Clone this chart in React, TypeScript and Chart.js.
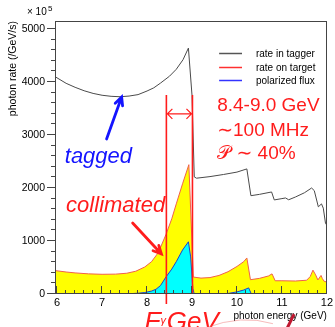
import React, { useEffect, useRef } from "react";
import { Chart, registerables } from "chart.js";

Chart.register(...registerables);

const FONT = "'Liberation Sans', Arial, Helvetica, 'DejaVu Sans', sans-serif";
const RED = "#ff1c1c";
const BLUE = "#1414ff";

// axes
const xRange = [5.975, 12];
const yRange = [0, 5151];
const xTickValues = [6, 7, 8, 9, 10, 11, 12];
const yTickValues = [0, 1000, 2000, 3000, 4000, 5000];
const xMajorStep = 1;
const xMinorStep = 0.2;
const yMajorStep = 1000;
const yMinorStep = 200;

// rate in tagger
const taggerEnergy = [5.975, 6.2, 6.4, 6.6, 6.8, 7.0, 7.2, 7.4, 7.6, 7.8, 8.0, 8.15, 8.3, 8.5, 8.65, 8.8, 8.92, 9.0, 9.05, 9.1, 9.4, 9.7, 10.0, 10.22, 10.31, 10.5, 10.77, 10.83, 11.0, 11.08, 11.15, 11.3, 11.5, 11.66, 11.72, 11.81, 11.88, 11.92, 11.97, 12.0];
const taggerRate = [4090, 3975, 3900, 3835, 3785, 3750, 3730, 3722, 3735, 3762, 3830, 3890, 3980, 4110, 4240, 4420, 4640, 3750, 2210, 2185, 2215, 2255, 2300, 2360, 1855, 1880, 1925, 1775, 1800, 1812, 1778, 1830, 1910, 2000, 1950, 1645, 1700, 1620, 1330, 1300];

// rate on target (collimated)
const targetEnergy = [5.975, 6.2, 6.4, 6.7, 7.0, 7.3, 7.55, 7.75, 7.95, 8.1, 8.25, 8.42, 8.55, 8.65, 8.79, 8.93, 9.03, 9.2, 9.4, 9.6, 9.8, 10.0, 10.15, 10.22, 10.3, 10.5, 10.7, 10.78, 10.85, 11.0, 11.3, 11.55, 11.63, 11.69, 11.75, 11.8, 11.87, 11.9, 11.94, 12.0];
const targetRate = [440, 415, 398, 380, 372, 375, 392, 430, 510, 610, 780, 1120, 1420, 1700, 2080, 2440, 320, 300, 310, 350, 420, 520, 610, 680, 270, 295, 340, 380, 250, 250, 245, 260, 330, 450, 360, 265, 350, 290, 240, 225];

// polarized flux (null = no entry)
const polarizedEnergy = [7.4, 7.6, 7.8, 7.95, 8.1, 8.2, 8.3, 8.42, 8.55, 8.65, 8.79, 8.92, 8.97, 9.02, 9.05, 9.3, 9.5, 9.8, 10.0, 10.15, 10.26, 10.32, 10.4, 10.45, 10.8, 10.85, 11.2, 11.55, 11.7, 11.8];
const polarizedRate = [0, 5, 15, 28, 55, 90, 160, 320, 470, 610, 830, 985, 700, 100, 0, null, 0, 10, 40, 75, 115, 0, null, 0, 5, 0, null, 0, 10, 0];

// annotations
const legendLabels = ["rate in tagger", "rate on target", "polarized flux"];
const legendColors = ["#555555", "#ff3030", "#3333ff"];
const infoLines = ["8.4-9.0 GeV", "\u223C100 MHz", "\uD835\uDCAB \u223C 40%"];
const windowEdges = [8.43, 9.01];
const windowTop = 3755;
const arrowLevel = 3400;

function pts(xs: number[], ys: (number | null)[]) {
  return xs.map((x, i) => ({ x, y: ys[i] }));
}

function drawArrow(ctx: CanvasRenderingContext2D, x0: number, y0: number, x1: number, y1: number, color: string, width: number, head: number) {
  const a = Math.atan2(y1 - y0, x1 - x0);
  ctx.save();
  ctx.strokeStyle = color;
  ctx.lineWidth = width;
  ctx.lineCap = "round";
  ctx.lineJoin = "miter";
  ctx.beginPath();
  ctx.moveTo(x0, y0);
  ctx.lineTo(x1, y1);
  ctx.moveTo(x1 - head * Math.cos(a - 0.45), y1 - head * Math.sin(a - 0.45));
  ctx.lineTo(x1, y1);
  ctx.lineTo(x1 - head * Math.cos(a + 0.45), y1 - head * Math.sin(a + 0.45));
  ctx.stroke();
  ctx.restore();
}

const overlayPlugin = {
  id: "overlay",
  afterDatasetsDraw(chart: any) {
    const { ctx, chartArea: ca, scales } = chart;
    const X = (v: number) => scales.x.getPixelForValue(v);
    const Y = (v: number) => scales.y.getPixelForValue(v);
    ctx.save();
    ctx.strokeStyle = RED;
    ctx.lineWidth = 1.6;
    windowEdges.forEach((e, i) => {
      const px = X(e);
      ctx.beginPath();
      ctx.moveTo(px, Y(windowTop));
      ctx.lineTo(px, i === 0 ? ca.bottom + 10 : ca.bottom);
      ctx.stroke();
    });
    const ay = Y(arrowLevel);
    const x1 = X(windowEdges[0]);
    const x2 = X(windowEdges[1]);
    ctx.lineWidth = 1.2;
    ctx.beginPath();
    ctx.moveTo(x1, ay);
    ctx.lineTo(x2, ay);
    ctx.moveTo(x1 + 6, ay - 5);
    ctx.lineTo(x1 + 1, ay);
    ctx.lineTo(x1 + 6, ay + 5);
    ctx.moveTo(x2 - 6, ay - 5);
    ctx.lineTo(x2 - 1, ay);
    ctx.lineTo(x2 - 6, ay + 5);
    ctx.stroke();
    ctx.restore();
  },
  afterDraw(chart: any) {
    const { ctx, chartArea: ca, scales } = chart;
    const X = (v: number) => scales.x.getPixelForValue(v);
    const Y = (v: number) => scales.y.getPixelForValue(v);
    ctx.save();
    // frame
    ctx.strokeStyle = "#444";
    ctx.lineWidth = 1;
    ctx.strokeRect(Math.round(ca.left) - 0.5, Math.round(ca.top) + 0.5, Math.round(ca.right - ca.left), Math.round(ca.bottom - ca.top) - 1);
    // y ticks (outside, left)
    ctx.beginPath();
    const ny = Math.floor((yRange[1] - yRange[0]) / yMinorStep + 1e-6);
    for (let i = 0; i <= ny; i++) {
      const v = yRange[0] + i * yMinorStep;
      const py = Math.round(Y(v)) - 0.5;
      const major = Math.abs(v / yMajorStep - Math.round(v / yMajorStep)) < 1e-6;
      ctx.moveTo(ca.left - (major ? 9 : 5), py);
      ctx.lineTo(ca.left, py);
    }
    // x ticks (inside, bottom)
    const start = Math.ceil(xRange[0] / xMinorStep - 1e-6);
    const end = Math.floor(xRange[1] / xMinorStep + 1e-6);
    for (let k = start; k <= end; k++) {
      const v = k * xMinorStep;
      const px = Math.round(X(v)) - 0.5;
      const major = Math.abs(v / xMajorStep - Math.round(v / xMajorStep)) < 1e-6;
      ctx.moveTo(px, ca.bottom);
      ctx.lineTo(px, ca.bottom - (major ? 8 : 4));
    }
    ctx.stroke();

    // x10^5
    ctx.fillStyle = "#000";
    ctx.textBaseline = "alphabetic";
    ctx.textAlign = "left";
    ctx.font = `10px ${FONT}`;
    ctx.fillText("\u00D7 10", ca.left - 29, ca.top - 6);
    ctx.font = `8px ${FONT}`;
    ctx.fillText("5", ca.left - 8, ca.top - 10);

    // legend
    ctx.font = `10px ${FONT}`;
    ctx.textBaseline = "middle";
    const legY = [4547, 4283, 4038];
    legendLabels.forEach((lab, i) => {
      const py = Math.round(Y(legY[i])) + 0.5;
      ctx.strokeStyle = legendColors[i];
      ctx.lineWidth = 1.5;
      ctx.beginPath();
      ctx.moveTo(X(9.603), py);
      ctx.lineTo(X(10.112), py);
      ctx.stroke();
      ctx.fillStyle = "#000";
      ctx.fillText(lab, X(10.422), py + 1);
    });

    // info text
    ctx.fillStyle = RED;
    ctx.textBaseline = "alphabetic";
    ctx.font = `19px ${FONT}`;
    const infoY = [3453, 2981, 2547];
    infoLines.forEach((t, i) => ctx.fillText(t, X(9.559), Y(infoY[i])));

    // tagged
    ctx.fillStyle = BLUE;
    ctx.font = `italic 22px ${FONT}`;
    ctx.fillText("tagged", X(6.17), Y(2470));
    drawArrow(ctx, X(7.1), Y(2925), X(7.435), Y(3717), BLUE, 2.8, 9);

    // collimated
    ctx.fillStyle = RED;
    ctx.fillText("collimated", X(6.2), Y(1550));
    drawArrow(ctx, X(7.68), Y(1340), X(8.32), Y(755), RED, 2.8, 9);

    // E_gamma GeV
    ctx.font = `italic 26px ${FONT}`;
    ctx.fillText("E", X(7.944), Y(-680));
    ctx.font = `italic 11px ${FONT}`;
    ctx.fillText("\u03B3", X(8.3), Y(-560));
    ctx.font = `italic 26px ${FONT}`;
    ctx.fillText("GeV", X(8.44), Y(-680));

    // faint decoration below axis
    ctx.strokeStyle = "rgba(240,120,120,0.5)";
    ctx.lineWidth = 1;
    ctx.beginPath();
    ctx.moveTo(X(9.3), Y(-640));
    ctx.quadraticCurveTo(X(10.1), Y(-380), X(10.8), Y(-560));
    ctx.stroke();
    ctx.strokeStyle = "#c01830";
    ctx.lineWidth = 3;
    ctx.beginPath();
    ctx.moveTo(X(11.27), Y(-380));
    ctx.lineTo(X(11.12), Y(-640));
    ctx.stroke();
    ctx.restore();
  },
};

export default function App() {
  const ref = useRef<HTMLCanvasElement>(null);
  useEffect(() => {
    document.body.style.margin = "0";
    const chart = new Chart(ref.current as HTMLCanvasElement, {
      type: "line",
      data: {
        datasets: [
          {
            label: legendLabels[0],
            data: pts(taggerEnergy, taggerRate),
            borderColor: "#4a4a4a",
            borderWidth: 1,
            pointRadius: 0,
            fill: false,
            tension: 0,
            order: 0,
          },
          {
            label: legendLabels[2],
            data: pts(polarizedEnergy, polarizedRate),
            borderColor: "#1f3fd0",
            backgroundColor: "#00ffff",
            borderWidth: 1,
            pointRadius: 0,
            fill: "origin",
            spanGaps: false,
            tension: 0,
            order: 1,
          },
          {
            label: legendLabels[1],
            data: pts(targetEnergy, targetRate),
            borderColor: "#f0604a",
            backgroundColor: "#ffff00",
            borderWidth: 1,
            pointRadius: 0,
            fill: "origin",
            tension: 0,
            order: 2,
          },
        ],
      } as any,
      options: {
        responsive: false,
        animation: false,
        events: [],
        layout: { padding: { top: 21, right: 7, left: 0, bottom: 0 } },
        plugins: { legend: { display: false }, tooltip: { enabled: false } },
        scales: {
          x: {
            type: "linear",
            min: xRange[0],
            max: xRange[1],
            grid: { display: false, drawTicks: false },
            border: { display: false },
            afterBuildTicks: (s: any) => { s.ticks = xTickValues.map((v) => ({ value: v })); },
            ticks: { autoSkip: false, maxRotation: 0, font: { family: FONT, size: 11 }, color: "#000", padding: 2, callback: (v: any) => String(v) },
            title: { display: true, text: "photon energy (GeV)", align: "end", font: { family: FONT, size: 10 }, color: "#000", padding: { top: 0, bottom: 5 } },
            afterFit: (s: any) => { s.height = 33; },
          },
          y: {
            type: "linear",
            min: yRange[0],
            max: yRange[1],
            grid: { display: false, drawTicks: false },
            border: { display: false },
            afterBuildTicks: (s: any) => { s.ticks = yTickValues.map((v) => ({ value: v })); },
            ticks: { autoSkip: false, font: { family: FONT, size: 10.5 }, color: "#000", padding: 11, callback: (v: any) => String(v) },
            title: { display: true, text: "photon rate (/GeV/s)", align: "end", font: { family: FONT, size: 10.5 }, color: "#000", padding: { top: 7, bottom: 0 } },
            afterFit: (s: any) => { s.width = 56; },
          },
        },
      } as any,
      plugins: [overlayPlugin],
    });
    return () => chart.destroy();
  }, []);
  return (
    <div style={{ width: 335, height: 327, position: "relative", background: "#fff" }}>
      <canvas ref={ref} width={335} height={327} style={{ display: "block" }} />
    </div>
  );
}
